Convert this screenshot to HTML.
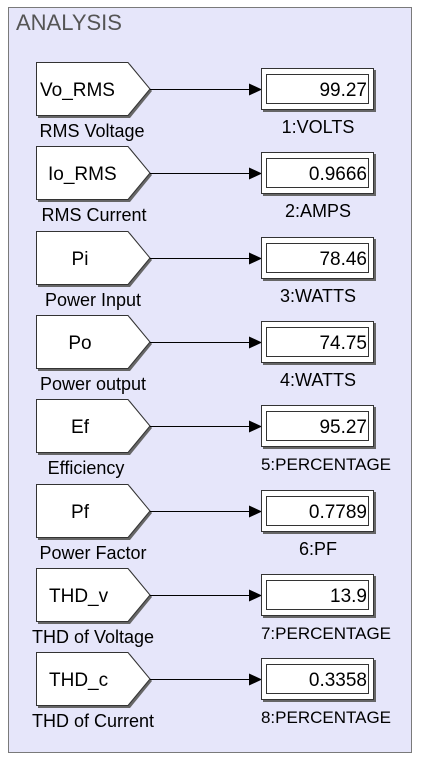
<!DOCTYPE html>
<html><head><meta charset="utf-8"><style>
html,body{margin:0;padding:0;background:#fff;}
svg{display:block;font-family:"Liberation Sans",Arial,sans-serif;}
</style></head><body>
<svg width="421" height="760" xmlns="http://www.w3.org/2000/svg">
<defs>
<marker id="a" markerWidth="13" markerHeight="12" refX="12" refY="6" orient="auto" markerUnits="userSpaceOnUse"><path d="M0,0 L13,6 L0,12 z" fill="#000"/></marker>
<g id="base">
<path d="M38,2 H130 L152,29 L130,56 H38 Z" fill="#666"/>
<path d="M36.5,0.5 H128 L150,27 L128,53.5 H36.5 Z" fill="#fff" stroke="#333"/>
<line x1="150" y1="27.5" x2="261" y2="27.5" stroke="#000" marker-end="url(#a)"/>
<rect x="263" y="8" width="113" height="42" fill="#666"/>
<rect x="261.5" y="6.5" width="112" height="41" fill="#fff" stroke="#333"/>
<rect x="266.5" y="12.5" width="102" height="29" fill="#fff" stroke="#333"/>
</g>
</defs>
<rect x="8.5" y="7.5" width="403" height="745" fill="#e6e6fa" stroke="#7a7a7a"/>
<text x="16" y="30" font-size="22" fill="#555">ANALYSIS</text>
<g font-size="19">
<g transform="translate(0,62)"><use href="#base"/><text x="40" y="34">Vo_RMS</text><text x="92" y="75" font-size="18" text-anchor="middle">RMS Voltage</text><text x="367" y="34" text-anchor="end">99.27</text><text x="318" y="71" font-size="18" text-anchor="middle">1:VOLTS</text></g>
<g transform="translate(0,146)"><use href="#base"/><text x="48" y="34">Io_RMS</text><text x="94" y="75" font-size="18" text-anchor="middle">RMS Current</text><text x="367" y="34" text-anchor="end">0.9666</text><text x="318" y="71" font-size="18" text-anchor="middle">2:AMPS</text></g>
<g transform="translate(0,231)"><use href="#base"/><text x="80" y="34" text-anchor="middle">Pi</text><text x="93" y="75" font-size="18" text-anchor="middle">Power Input</text><text x="367" y="34" text-anchor="end">78.46</text><text x="318" y="71" font-size="18" text-anchor="middle">3:WATTS</text></g>
<g transform="translate(0,315)"><use href="#base"/><text x="80" y="34" text-anchor="middle">Po</text><text x="93" y="75" font-size="18" text-anchor="middle">Power output</text><text x="367" y="34" text-anchor="end">74.75</text><text x="318" y="71" font-size="18" text-anchor="middle">4:WATTS</text></g>
<g transform="translate(0,399)"><use href="#base"/><text x="80" y="34" text-anchor="middle">Ef</text><text x="86" y="75" font-size="18" text-anchor="middle">Efficiency</text><text x="367" y="34" text-anchor="end">95.27</text><text x="326" y="71" font-size="17" text-anchor="middle">5:PERCENTAGE</text></g>
<g transform="translate(0,484)"><use href="#base"/><text x="80" y="34" text-anchor="middle">Pf</text><text x="93" y="75" font-size="18" text-anchor="middle">Power Factor</text><text x="367" y="34" text-anchor="end">0.7789</text><text x="318" y="71" font-size="18" text-anchor="middle">6:PF</text></g>
<g transform="translate(0,568)"><use href="#base"/><text x="49" y="34">THD_v</text><text x="93" y="75" font-size="18" text-anchor="middle">THD of Voltage</text><text x="367" y="34" text-anchor="end">13.9</text><text x="326" y="71" font-size="17" text-anchor="middle">7:PERCENTAGE</text></g>
<g transform="translate(0,652)"><use href="#base"/><text x="49" y="34">THD_c</text><text x="93" y="75" font-size="18" text-anchor="middle">THD of Current</text><text x="367" y="34" text-anchor="end">0.3358</text><text x="326" y="71" font-size="17" text-anchor="middle">8:PERCENTAGE</text></g>
</g>
</svg>
</body></html>
